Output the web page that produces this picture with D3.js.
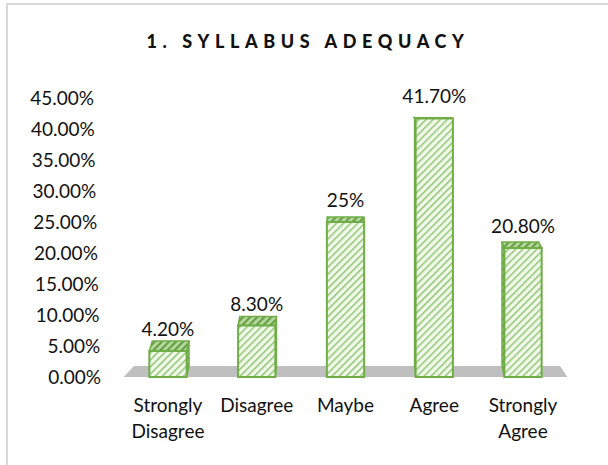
<!DOCTYPE html>
<html lang="en">
<head>
<meta charset="utf-8">
<title>Syllabus Adequacy</title>
<script src="https://d3js.org/d3.v7.min.js"></script>
<style>
  * { margin:0; padding:0; box-sizing:border-box; }
  body { background:#fff; width:608px; height:465px; overflow:hidden; font-family:Lato, 'Open Sans', sans-serif; }
  svg text { fill:#111; }
</style>
</head>
<body>
<svg id="chart" width="608" height="465"></svg>
<script>
const categories = [['Strongly', 'Disagree'], ['Disagree'], ['Maybe'], ['Agree'], ['Strongly', 'Agree']];
const values = [4.2, 8.3, 25, 41.7, 20.8];
const valueLabels = ['4.20%', '8.30%', '25%', '41.70%', '20.80%'];
const yTicks = [0, 5, 10, 15, 20, 25, 30, 35, 40, 45];

const svg = d3.select('#chart');

// chart frame (right/bottom edges run off the picture)
svg.append('rect')
  .attr('x', 7).attr('y', 4).attr('width', 640).attr('height', 500)
  .attr('fill', 'none').attr('stroke', '#d9d9d9').attr('stroke-width', 2);

const x = d3.scaleBand()
  .domain(d3.range(values.length))
  .range([123.6, 567.4])
  .paddingInner(0.58)
  .paddingOuter(0.29);

const y = d3.scaleLinear().domain([0, 45]).range([377, 98]);

// simple perspective: faces recede toward this point
const vpX = 346, horizon = 100, fx = 0.015, fy = 0.04;
const back = (px, py) => [px + (vpX - px) * fx, py - (py - horizon) * fy];

// hatch patterns
const defs = svg.append('defs');
function hatch(id, bg, fg, sw) {
  const p = defs.append('pattern')
    .attr('id', id).attr('patternUnits', 'userSpaceOnUse')
    .attr('width', 5).attr('height', 5)
    .attr('patternTransform', 'rotate(45)');
  p.append('rect').attr('width', 5).attr('height', 5).attr('fill', bg);
  p.append('rect').attr('width', sw).attr('height', 5).attr('fill', fg);
}
hatch('front', '#f1f8ec', '#92c672', 1.5);
hatch('top', '#b9d9a2', '#649f42', 2.2);
hatch('side', '#a9d18e', '#5e9a3c', 2.4);

// floor
const fl = y(0);
const fb0 = back(x.range()[0], fl), fb1 = back(x.range()[1], fl);
svg.append('polygon')
  .attr('points', [[x.range()[0], fl], [x.range()[1], fl], [fb1[0] - 4, fb1[1]], [fb0[0] + 7, fb0[1]]].join(' '))
  .attr('fill', '#bfbfbf');

// y axis labels (slightly skewed like the 3-D original)
svg.append('g').selectAll('text')
  .data(yTicks)
  .join('text')
  .attr('x', d => 101 - 7 * d / 45)
  .attr('y', d => y(d))
  .attr('dy', '0.35em')
  .attr('text-anchor', 'end')
  .style('font-size', '19px')
  .text(d => d.toFixed(2) + '%');

// bars
const bars = svg.append('g').selectAll('g')
  .data(values)
  .join('g');

bars.each(function(d, i) {
  const g = d3.select(this);
  const x0 = x(i), x1 = x(i) + x.bandwidth();
  const yt = y(d), yb = y(0);
  const tl = back(x0, yt), tr = back(x1, yt);
  const cx = (x0 + x1) / 2;
  // side face (visible side depends on which side of the centre the bar is)
  if (cx < vpX) {
    const br = back(x1, yb);
    g.append('polygon').attr('points', [[x1, yt], tr, br, [x1, yb]].join(' '))
      .attr('fill', 'url(#side)').attr('stroke', '#70ad47').attr('stroke-width', 1.5);
  } else {
    const bl = back(x0, yb);
    g.append('polygon').attr('points', [[x0, yt], tl, bl, [x0, yb]].join(' '))
      .attr('fill', 'url(#side)').attr('stroke', '#70ad47').attr('stroke-width', 1.5);
  }
  g.append('polygon').attr('points', [[x0, yt], [x1, yt], tr, tl].join(' '))
    .attr('fill', 'url(#top)').attr('stroke', '#70ad47').attr('stroke-width', 1.5);
  g.append('rect')
    .attr('x', x0).attr('y', yt).attr('width', x1 - x0).attr('height', yb - yt)
    .attr('fill', 'url(#front)').attr('stroke', '#70ad47').attr('stroke-width', 2);
});

// value labels
svg.append('g').selectAll('text')
  .data(values)
  .join('text')
  .attr('x', (d, i) => x(i) + x.bandwidth() / 2)
  .attr('y', d => y(d) - 15)
  .attr('text-anchor', 'middle')
  .style('font-size', '19px')
  .text((d, i) => valueLabels[i]);

// category labels
const cat = svg.append('g').selectAll('text')
  .data(categories)
  .join('text')
  .attr('x', (d, i) => x(i) + x.bandwidth() / 2)
  .attr('y', 412)
  .attr('text-anchor', 'middle')
  .style('font-size', '19px');
cat.selectAll('tspan')
  .data(d => d)
  .join('tspan')
  .attr('x', function() { return this.parentNode.getAttribute('x'); })
  .attr('dy', (d, j) => j ? 26 : 0)
  .text(d => d);

// title
svg.append('text')
  .attr('x', 308).attr('y', 48)
  .attr('text-anchor', 'middle')
  .style('font-size', '18px').style('font-weight', '900')
  .style('letter-spacing', '5.6px')
  .text('1. SYLLABUS ADEQUACY');
</script>
</body>
</html>
